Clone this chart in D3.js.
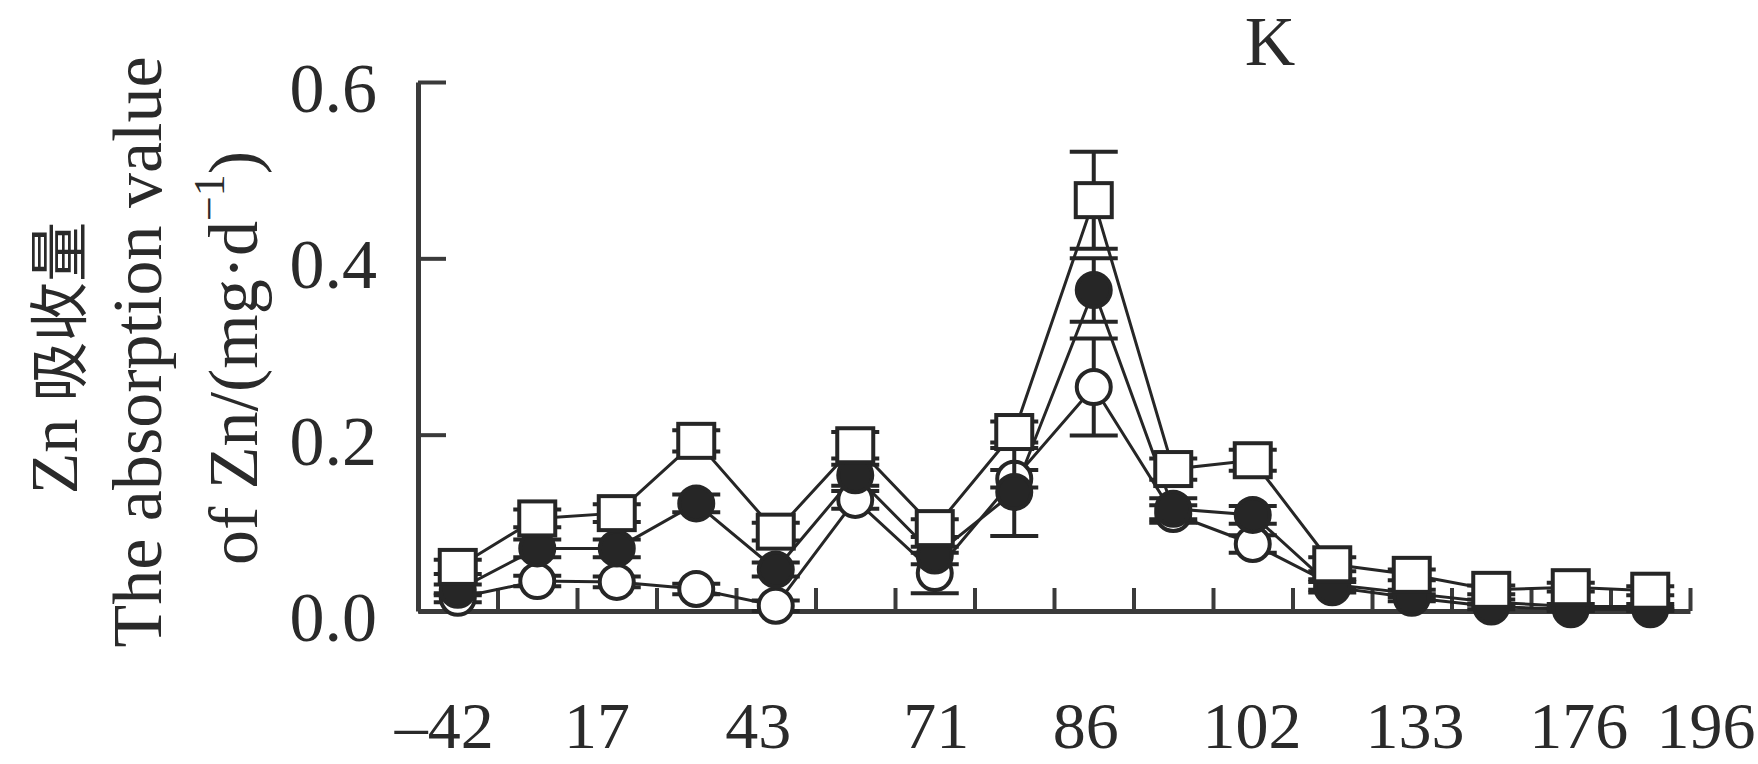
<!DOCTYPE html>
<html>
<head>
<meta charset="utf-8">
<script src="https://cdn.jsdelivr.net/npm/d3@7"></script>
<style>
	body { margin: 0; background: #fff; }
	svg { display: block; }
	.txt { font-family: 'Liberation Serif', 'DejaVu Serif', serif; fill: #2a2a2a; }
	.cjk { font-family: 'Noto Sans CJK SC', sans-serif; fill: #2a2a2a; }
</style>
</head>
<body>
<div id="chart"></div>
<script>

	// x tick labels (days) and where they sit, in sampling-slot units
	var xLabels = ['\u201342', '17', '43', '71', '86', '102', '133', '176', '196'];
	var xLabelSlot = [-0.17, 1.75, 3.78, 6.02, 7.9, 9.99, 12.04, 14.1, 15.7];
	var yTicks = [0, 0.2, 0.4, 0.6];

	// 16 sampling dates
	var slots = d3.range(16);

	// Zn absorption, mg/d
	var squareVals = [0.050, 0.105, 0.111, 0.193, 0.090, 0.188, 0.094, 0.203, 0.466, 0.161, 0.171, 0.053, 0.041, 0.024, 0.027, 0.023];
	var squareErr  = [0.008, 0.010, 0.010, 0.012, 0.010, 0.015, 0.010, 0.012, 0.055, 0.012, 0.012, 0.008, 0.006, 0.005, 0.005, 0.005];
	var filledVals = [0.024, 0.071, 0.071, 0.122, 0.047, 0.154, 0.063, 0.135, 0.364, 0.116, 0.109, 0.027, 0.015, 0.005, 0.002, 0.002];
	var filledErr  = [0.006, 0.010, 0.010, 0.010, 0.008, 0.012, 0.010, 0.050, 0.036, 0.012, 0.010, 0.006, 0.004, 0.003, 0.002, 0.002];
	var openVals   = [0.015, 0.034, 0.033, 0.025, 0.006, 0.126, 0.043, 0.150, 0.254, 0.110, 0.076, 0.030, 0.020, 0.010, 0.005, 0.005];
	var openErr    = [0.005, 0.006, 0.006, 0.006, 0.006, 0.010, 0.023, 0.010, 0.055, 0.010, 0.010, 0.006, 0.004, 0.003, 0.003, 0.003];

	var dim = { w: 1758, h: 764 };
	var margin = { left: 418, right: 68, top: 82, bottom: 153 };
	var ink = '#262626';

	var svg = d3.select('#chart').append('svg')
		.attr('width', dim.w)
		.attr('height', dim.h);

	svg.append('rect').attr('width', dim.w).attr('height', dim.h).attr('fill', '#fff');

	var x = d3.scaleLinear()
		.domain([-0.5, 15.5])
		.range([margin.left, dim.w - margin.right]);
	var y = d3.scaleLinear()
		.domain([0, 0.6])
		.range([dim.h - margin.bottom, margin.top]);

	//x axis: ticks between sampling slots, pointing up
	var xAxis = svg.append('g')
		.attr('transform', 'translate(0,' + y(0) + ')')
		.call(d3.axisBottom(x)
			.tickValues(d3.range(-0.5, 16, 1))
			.tickSize(-23)
			.tickSizeOuter(0)
			.tickFormat(''));
	xAxis.select('.domain').attr('stroke', '#3a3a3a').attr('stroke-width', 5);
	xAxis.selectAll('.tick line').attr('stroke', '#3a3a3a').attr('stroke-width', 4);

	svg.selectAll('.x-label')
		.data(xLabels)
		.enter().append('text')
		.attr('class', 'txt x-label')
		.attr('x', function (d, i) { return x(xLabelSlot[i]); })
		.attr('y', 748)
		.attr('text-anchor', 'middle')
		.attr('font-size', 66)
		.text(function (d) { return d; });

	//y axis
	var yAxis = svg.append('g')
		.attr('transform', 'translate(' + x(-0.5) + ',0)')
		.call(d3.axisLeft(y)
			.tickValues(yTicks)
			.tickSize(-28)
			.tickSizeOuter(0)
			.tickPadding(41)
			.tickFormat(d3.format('.1f')));
	yAxis.select('.domain').attr('stroke', '#3a3a3a').attr('stroke-width', 5);
	yAxis.selectAll('.tick line').attr('stroke', '#3a3a3a').attr('stroke-width', 4);
	yAxis.selectAll('.tick text')
		.attr('class', 'txt')
		.attr('font-size', 70)
		.attr('dy', '0.42em')
		.attr('fill', '#2a2a2a');

	//axis titles
	function vText(cx, cy, cls) {
		return svg.append('text')
			.attr('class', cls)
			.attr('transform', 'translate(' + cx + ',' + cy + ') rotate(-90)')
			.attr('text-anchor', 'middle')
			.attr('dominant-baseline', 'central')
			.attr('font-size', 68);
	}
	var t1 = vText(54, 358, 'txt');
	t1.append('tspan').text('Zn ');
	t1.append('tspan').attr('class', 'cjk').attr('font-size', 60).text('吸收量');
	vText(137, 352, 'txt').attr('font-size', 70).text('The absorption value');
	var t3 = vText(233, 358, 'txt').attr('font-size', 70);
	t3.append('tspan').text('of Zn/(mg\u00b7d');
	t3.append('tspan').attr('font-size', 44).attr('dy', -24).text('\u22121');
	t3.append('tspan').attr('dy', 24).text(')');

	svg.append('text')
		.attr('class', 'txt')
		.attr('x', 1270)
		.attr('y', 65)
		.attr('text-anchor', 'middle')
		.attr('font-size', 70)
		.text('K');

	//series
	var series = [
		{ key: 'open', vals: openVals, err: openErr, shape: 'circle', fill: '#fff' },
		{ key: 'filled', vals: filledVals, err: filledErr, shape: 'circle', fill: ink },
		{ key: 'square', vals: squareVals, err: squareErr, shape: 'square', fill: '#fff' }
	];

	var line = d3.line()
		.x(function (d) { return x(d.i); })
		.y(function (d) { return y(d.v); });

	series.forEach(function (s) {
		var pts = slots.map(function (i) { return { i: i, v: s.vals[i], e: s.err[i] }; });
		svg.append('path')
			.datum(pts)
			.attr('d', line)
			.attr('fill', 'none')
			.attr('stroke', ink)
			.attr('stroke-width', 3);
	});

	series.forEach(function (s) {
		var pts = slots.map(function (i) { return { i: i, v: s.vals[i], e: s.err[i] }; });
		var g = svg.append('g').attr('class', 'series-' + s.key);
		var eb = g.selectAll('.err').data(pts).enter().append('g').attr('class', 'err');
		eb.append('line')
			.attr('x1', function (d) { return x(d.i); })
			.attr('x2', function (d) { return x(d.i); })
			.attr('y1', function (d) { return y(d.v + d.e); })
			.attr('y2', function (d) { return y(Math.max(d.v - d.e, 0)); })
			.attr('stroke', ink).attr('stroke-width', 4);
		[1, -1].forEach(function (sign) {
			eb.append('line')
				.attr('x1', function (d) { return x(d.i) - 24; })
				.attr('x2', function (d) { return x(d.i) + 24; })
				.attr('y1', function (d) { return y(Math.max(d.v + sign * d.e, 0)); })
				.attr('y2', function (d) { return y(Math.max(d.v + sign * d.e, 0)); })
				.attr('stroke', ink).attr('stroke-width', 4);
		});
		if (s.shape === 'square') {
			g.selectAll('.mk').data(pts).enter().append('rect')
				.attr('x', function (d) { return x(d.i) - 18; })
				.attr('y', function (d) { return y(d.v) - 17; })
				.attr('width', 36)
				.attr('height', 34)
				.attr('fill', s.fill)
				.attr('stroke', ink)
				.attr('stroke-width', 4);
		} else {
			g.selectAll('.mk').data(pts).enter().append('circle')
				.attr('cx', function (d) { return x(d.i); })
				.attr('cy', function (d) { return y(d.v); })
				.attr('r', 17)
				.attr('fill', s.fill)
				.attr('stroke', ink)
				.attr('stroke-width', 4);
		}
	});

</script>
</body>
</html>
